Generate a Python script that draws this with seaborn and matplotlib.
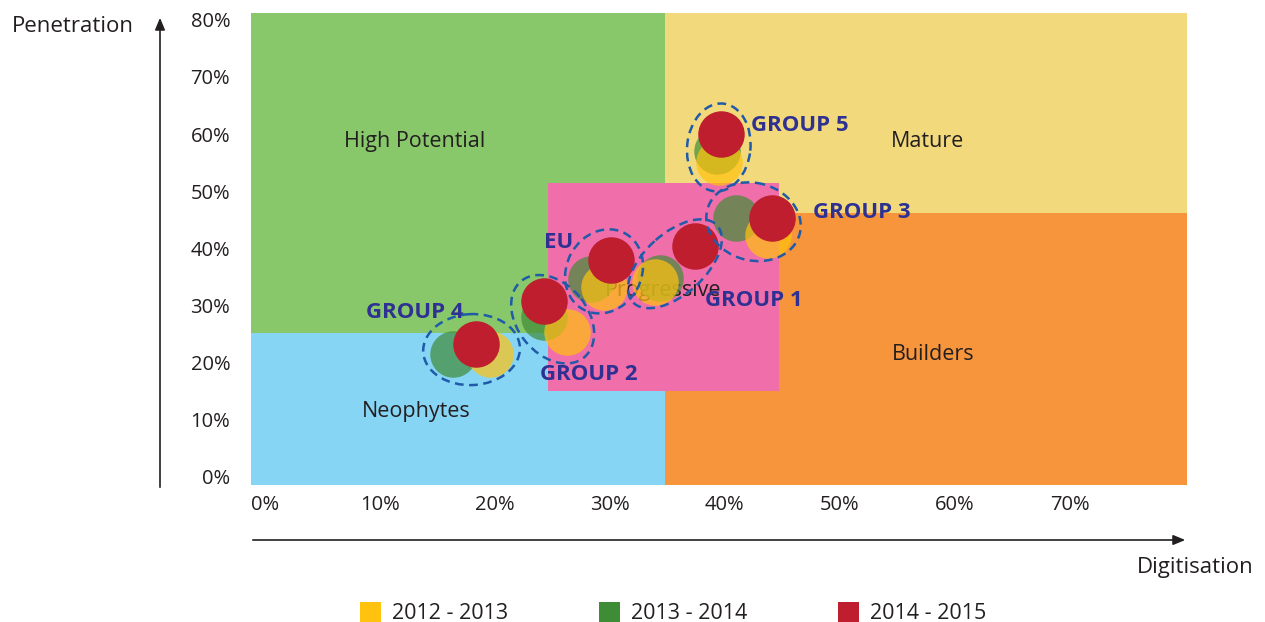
import numpy as np
import pandas as pd
import matplotlib
matplotlib.use("Agg")
import matplotlib.pyplot as plt
from matplotlib.patches import Rectangle, Ellipse, Patch
import seaborn as sns

# groups of countries, one bubble per period
groups = ["GROUP 4", "GROUP 2", "EU", "GROUP 1", "GROUP 3", "GROUP 5"]
periods = ["2012 - 2013", "2013 - 2014", "2014 - 2015"]

digit_1213 = [19.6, 26.3, 29.5, 33.9, 43.8, 39.5]
penet_1213 = [21.5, 25.3, 33.3, 34.2, 42.4, 55.2]
digit_1314 = [16.4, 24.3, 28.4, 34.4, 41.0, 39.3]
penet_1314 = [21.5, 28.0, 34.7, 34.9, 45.4, 57.0]
digit_1415 = [18.4, 24.3, 30.1, 37.4, 44.1, 39.7]
penet_1415 = [23.3, 30.8, 38.0, 40.5, 45.4, 60.1]

# background zones (digitisation range, penetration range)
zone_names = ["High Potential", "Neophytes", "Mature", "Builders", "Progressive"]
zone_x0 = [-1.2, -1.2, 34.8, 34.8, 24.6]
zone_x1 = [34.8, 34.8, 80.2, 80.2, 44.7]
zone_y0 = [25.2, -1.4, 46.2, -1.4, 15.1]
zone_y1 = [81.2, 25.2, 81.2, 46.2, 51.5]

ticks = [0, 10, 20, 30, 40, 50, 60, 70]
yticks = [0, 10, 20, 30, 40, 50, 60, 70, 80]

zone_colors = ["#88C86A", "#87D5F5", "#F2DA7C", "#F7953C", "#F06EA9"]
zone_label_pos = {"High Potential": (13.0, 58.7), "Neophytes": (13.2, 11.4),
                  "Mature": (57.6, 58.7), "Builders": (58.1, 21.5),
                  "Progressive": (34.6, 32.6)}
group_label_pos = {"GROUP 4": (8.8, 28.7), "GROUP 2": (23.9, 18.0), "EU": (24.3, 41.0),
                   "GROUP 1": (38.3, 30.8), "GROUP 3": (47.7, 46.2), "GROUP 5": (42.3, 61.5)}
period_colors = {"2012 - 2013": "#FFC20E", "2013 - 2014": "#3F8C36", "2014 - 2015": "#BE1E2D"}
period_alpha = {"2012 - 2013": 0.7, "2013 - 2014": 0.7, "2014 - 2015": 1.0}
text_col = "#231F20"

df = pd.DataFrame({
    "group": groups * 3,
    "period": np.repeat(periods, len(groups)),
    "digitisation": digit_1213 + digit_1314 + digit_1415,
    "penetration": penet_1213 + penet_1314 + penet_1415,
})

sns.set_theme(style="white")
plt.rcParams["font.family"] = ["Open Sans", "DejaVu Sans"]

DPI = 100
fig = plt.figure(figsize=(12.65, 6.22), dpi=DPI)
ax = fig.add_axes([251 / 1265, 137 / 622, 936 / 1265, 472 / 622])
ax.set_xlim(-1.2, 80.2)
ax.set_ylim(-1.4, 81.2)

for name, x0, x1, y0, y1, c in zip(zone_names, zone_x0, zone_x1, zone_y0, zone_y1, zone_colors):
    ax.add_patch(Rectangle((x0, y0), x1 - x0, y1 - y0, facecolor=c, edgecolor="none", zorder=1))
    lx, ly = zone_label_pos[name]
    ax.text(lx, ly, name, ha="center", va="center", fontsize=15.5, color=text_col, zorder=2)

# bubbles: green first, then yellow, red on top
for p, z in [("2013 - 2014", 3), ("2012 - 2013", 4), ("2014 - 2015", 5)]:
    sub = df[df["period"] == p]
    sns.scatterplot(data=sub, x="digitisation", y="penetration", color=period_colors[p],
                    alpha=period_alpha[p], s=1120, linewidth=0, ax=ax, zorder=z, legend=False)

# dashed rings fitted round each group's bubbles (in screen space)
pad_px = 60
for g in groups:
    sub = df[df["group"] == g]
    pts = ax.transData.transform(np.column_stack([sub["digitisation"], sub["penetration"]]))
    c = pts.mean(axis=0)
    vals, vecs = np.linalg.eigh(np.cov((pts - c).T))
    major, minor = vecs[:, 1], vecs[:, 0]
    pm, pn = (pts - c) @ major, (pts - c) @ minor
    ctr = c + major * (pm.max() + pm.min()) / 2 + minor * (pn.max() + pn.min()) / 2
    w = np.ptp(pm) + pad_px
    h = np.ptp(pn) + pad_px
    ang = np.degrees(np.arctan2(major[1], major[0]))
    ring = Ellipse(ctr / DPI, w / DPI, h / DPI, angle=ang, transform=fig.dpi_scale_trans,
                   facecolor="none", edgecolor="#1F5BA8", linewidth=1.8,
                   linestyle=(0, (3.5, 2.2)), zorder=6)
    fig.add_artist(ring)
    lx, ly = group_label_pos[g]
    ax.text(lx, ly, g, ha="left", va="center", fontsize=16, fontweight="bold",
            color="#2E3192", zorder=7)

ax.set_xticks(ticks)
ax.set_xticklabels([f"{t}%" for t in ticks])
ax.set_yticks(yticks)
ax.set_yticklabels([f"{t}%" for t in yticks])
ax.tick_params(axis="x", length=0, pad=7, labelsize=14.5, labelcolor=text_col)
ax.tick_params(axis="y", length=0, pad=15, labelsize=14.5, labelcolor=text_col)
ax.set_xlabel("")
ax.set_ylabel("")
for s in ax.spines.values():
    s.set_visible(False)
ax.grid(False)

# axis arrows
arrow = dict(arrowstyle="-|>,head_length=0.6,head_width=0.25", color=text_col, lw=1.2)
ax.annotate("", xy=(160, 607), xytext=(160, 132), xycoords="figure pixels",
            textcoords="figure pixels", arrowprops=arrow, annotation_clip=False)
ax.annotate("", xy=(1188, 82), xytext=(250, 82), xycoords="figure pixels",
            textcoords="figure pixels", arrowprops=arrow, annotation_clip=False)
fig.text(73 / 1265, 1 - 26 / 622, "Penetration", ha="center", va="center",
         fontsize=16, color=text_col)
fig.text(1195 / 1265, 1 - 568 / 622, "Digitisation", ha="center", va="center",
         fontsize=16, color=text_col)

handles = [Patch(facecolor=period_colors[p], edgecolor="none", label=p) for p in periods]
fig.legend(handles=handles, loc="lower center", bbox_to_anchor=(0.532, -0.035), ncol=3,
           frameon=False, fontsize=15.5, handlelength=1.0, handleheight=1.0,
           handletextpad=0.5, columnspacing=4.2, labelcolor=text_col)

fig.savefig("out.png", dpi=DPI)
